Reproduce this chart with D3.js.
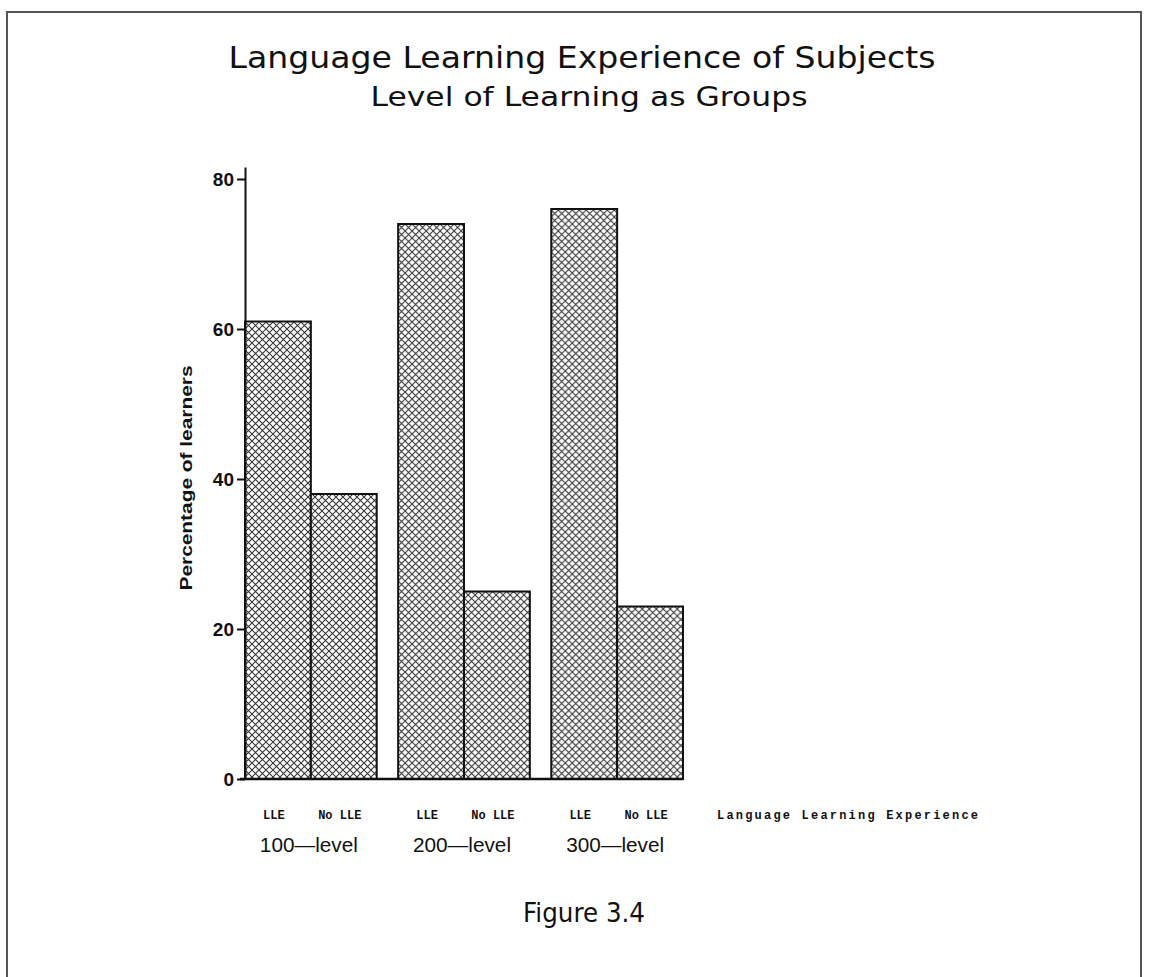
<!DOCTYPE html>
<html>
<head>
<meta charset="utf-8">
<script src="https://cdn.jsdelivr.net/npm/d3@7"></script>
<style>
  body { margin: 0; background: #fff; }
  svg { display: block; }
</style>
</head>
<body>
<svg id="chart"></svg>
<script>
// data
const groups = ["100—level", "200—level", "300—level"];
const subgroups = ["LLE", "No LLE"];
const lleValues = [61, 74, 76];
const noLleValues = [38, 25, 23];
const yTicks = [0, 20, 40, 60, 80];

const width = 1149;
const height = 977;

const svg = d3.select("#chart")
  .attr("width", width)
  .attr("height", height);

// frame around the figure
svg.append("rect")
  .attr("x", 7).attr("y", 12)
  .attr("width", 1134).attr("height", 1000)
  .attr("fill", "none")
  .attr("stroke", "#555")
  .attr("stroke-width", 2);

// crosshatch pattern for the bars
const defs = svg.append("defs");
const pat = defs.append("pattern")
  .attr("id", "hatch")
  .attr("patternUnits", "userSpaceOnUse")
  .attr("width", 7).attr("height", 7);
pat.append("rect").attr("width", 7).attr("height", 7).attr("fill", "#fff");
pat.append("path")
  .attr("d", "M0,0L7,7M7,0L0,7")
  .attr("stroke", "#333")
  .attr("stroke-width", 1.05);

// titles
svg.append("text")
  .attr("x", 582).attr("y", 68)
  .attr("text-anchor", "middle")
  .attr("font-family", "DejaVu Sans")
  .attr("font-size", 31)
  .attr("textLength", 707)
  .attr("lengthAdjust", "spacingAndGlyphs")
  .attr("fill", "#111")
  .text("Language Learning Experience of Subjects");

svg.append("text")
  .attr("x", 589).attr("y", 106)
  .attr("text-anchor", "middle")
  .attr("font-family", "DejaVu Sans")
  .attr("font-size", 26)
  .attr("textLength", 437)
  .attr("lengthAdjust", "spacingAndGlyphs")
  .attr("fill", "#111")
  .text("Level of Learning as Groups");

// scales
const y = d3.scaleLinear().domain([0, 81.6]).range([779, 167]);
const x0 = d3.scaleBand().domain(groups).range([245, 683]).paddingInner(0.14).paddingOuter(0);
const x1 = d3.scaleBand().domain(subgroups).range([0, x0.bandwidth()]).padding(0);

const rows = groups.map((g, i) => ({
  group: g,
  values: [
    { key: "LLE", value: lleValues[i] },
    { key: "No LLE", value: noLleValues[i] }
  ]
}));

// bars
const gGroups = svg.selectAll("g.grp")
  .data(rows)
  .enter()
  .append("g")
  .attr("class", "grp")
  .attr("transform", d => `translate(${x0(d.group)},0)`);

gGroups.selectAll("rect")
  .data(d => d.values)
  .enter()
  .append("rect")
  .attr("x", d => x1(d.key))
  .attr("y", d => y(d.value))
  .attr("width", x1.bandwidth())
  .attr("height", d => y(0) - y(d.value))
  .attr("fill", "url(#hatch)")
  .attr("stroke", "#111")
  .attr("stroke-width", 2);

// subgroup labels
gGroups.selectAll("text.sub")
  .data(d => d.values)
  .enter()
  .append("text")
  .attr("class", "sub")
  .attr("x", d => x1(d.key) + x1.bandwidth() / 2 - 4)
  .attr("y", 819)
  .attr("text-anchor", "middle")
  .attr("font-family", "Liberation Mono")
  .attr("font-weight", "bold")
  .attr("font-size", 12)
  .attr("fill", "#111")
  .text(d => d.key);

// group labels
svg.selectAll("text.grpLabel")
  .data(groups)
  .enter()
  .append("text")
  .attr("class", "grpLabel")
  .attr("x", d => x0(d) + x0.bandwidth() / 2 - 2)
  .attr("y", 852)
  .attr("text-anchor", "middle")
  .attr("font-family", "Liberation Sans")
  .attr("font-size", 20)
  .attr("textLength", 98)
  .attr("lengthAdjust", "spacingAndGlyphs")
  .attr("fill", "#111")
  .text(d => d);

// x-axis title
svg.append("text")
  .attr("x", 717).attr("y", 819)
  .attr("font-family", "Liberation Mono")
  .attr("font-weight", "bold")
  .attr("font-size", 12)
  .attr("textLength", 261)
  .attr("lengthAdjust", "spacing")
  .attr("fill", "#111")
  .text("Language Learning Experience");

// baseline
svg.append("line")
  .attr("x1", 240).attr("x2", 683)
  .attr("y1", y(0)).attr("y2", y(0))
  .attr("stroke", "#111")
  .attr("stroke-width", 2.5);

// y axis
const yAxis = svg.append("g")
  .attr("transform", "translate(245,0)")
  .call(d3.axisLeft(y).tickValues(yTicks).tickSize(8).tickSizeOuter(0).tickPadding(3));

yAxis.select(".domain").attr("stroke", "#111").attr("stroke-width", 2);
yAxis.selectAll(".tick line").attr("stroke", "#111").attr("stroke-width", 2);
yAxis.selectAll(".tick text")
  .attr("font-family", "Liberation Sans")
  .attr("font-weight", "bold")
  .attr("font-size", 19)
  .attr("fill", "#111");

// y axis title
svg.append("text")
  .attr("transform", "translate(192,478) rotate(-90)")
  .attr("text-anchor", "middle")
  .attr("font-family", "Liberation Sans")
  .attr("font-weight", "bold")
  .attr("font-size", 16)
  .attr("textLength", 225)
  .attr("lengthAdjust", "spacingAndGlyphs")
  .attr("fill", "#111")
  .text("Percentage of learners");

// figure caption
svg.append("text")
  .attr("x", 584).attr("y", 922)
  .attr("text-anchor", "middle")
  .attr("font-family", "DejaVu Sans")
  .attr("font-size", 27)
  .attr("textLength", 122)
  .attr("lengthAdjust", "spacingAndGlyphs")
  .attr("fill", "#111")
  .text("Figure 3.4");
</script>
</body>
</html>
